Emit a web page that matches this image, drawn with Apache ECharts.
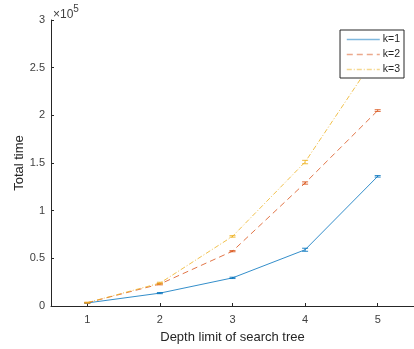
<!DOCTYPE html>
<html>
<head>
<meta charset="utf-8">
<script src="https://cdn.jsdelivr.net/npm/echarts@6/dist/echarts.min.js"></script>
<style>
  html, body { margin: 0; padding: 0; background: #fff; }
  #chart { width: 414px; height: 349px; }
</style>
</head>
<body>
<div id="chart"></div>
<script>
const depths = [1, 2, 3, 4, 5];
const k1 = [3200, 13500, 29500, 59000, 136000];
const k2 = [3400, 23000, 57500, 129000, 205000];
const k3 = [3500, 24000, 73000, 151000, 265000];
const k1Err = [400, 600, 700, 1600, 800];
const k2Err = [400, 800, 600, 1200, 900];
const k3Err = [400, 900, 800, 1800, 1000];
const yTicks = [0, 50000, 100000, 150000, 200000, 250000, 300000];

const colors = ['#0072BD', '#D95319', '#EDB120'];
const font = 'Liberation Sans, Arial, sans-serif';

const chart = echarts.init(document.getElementById('chart'));

function pairs(ys) {
  return depths.map(function (d, i) { return [d, ys[i]]; });
}

function errData(ys, es) {
  return depths.map(function (d, i) { return [d, ys[i] - es[i], ys[i] + es[i]]; });
}

function errSeries(ys, es, color) {
  return {
    type: 'custom',
    data: errData(ys, es),
    z: 3,
    silent: true,
    renderItem: function (params, api) {
      const lo = api.coord([api.value(0), api.value(1)]);
      const hi = api.coord([api.value(0), api.value(2)]);
      const w = 3;
      const style = { stroke: color, lineWidth: 1, opacity: 0.85 };
      return {
        type: 'group',
        children: [
          { type: 'line', shape: { x1: lo[0], y1: lo[1], x2: hi[0], y2: hi[1] }, style: style },
          { type: 'line', shape: { x1: lo[0] - w, y1: lo[1], x2: lo[0] + w, y2: lo[1] }, style: style },
          { type: 'line', shape: { x1: hi[0] - w, y1: hi[1], x2: hi[0] + w, y2: hi[1] }, style: style }
        ]
      };
    }
  };
}

function lineSeries(name, ys, color, dash) {
  return {
    name: name,
    type: 'line',
    data: pairs(ys),
    symbol: 'none',
    z: 2,
    lineStyle: { color: color, width: 1, type: dash, opacity: 0.8 },
    itemStyle: { color: color }
  };
}

chart.setOption({
  animation: false,
  textStyle: { fontFamily: font },
  grid: { left: 51, top: 20, width: 366, height: 286, containLabel: false },
  legend: {
    orient: 'vertical',
    right: 10,
    top: 30,
    backgroundColor: '#fff',
    borderColor: '#262626',
    borderWidth: 1,
    borderRadius: 0,
    padding: [4, 4, 3, 6],
    itemWidth: 33,
    itemHeight: 10,
    itemGap: 4,
    z: 10,
    itemStyle: { color: 'transparent', borderWidth: 0, opacity: 0 },
    lineStyle: { width: 1.5, color: 'inherit', type: 'inherit', opacity: 0.5 },
    textStyle: { fontSize: 10.5, color: '#262626', fontFamily: font, padding: [0, 0, 0, -2] },
    data: ['k=1', 'k=2', 'k=3']
  },
  xAxis: {
    type: 'value',
    min: 0.5,
    max: 5.5,
    name: 'Depth limit of search tree',
    nameLocation: 'middle',
    nameGap: 25,
    nameMoveOverlap: false,
    nameTextStyle: { fontSize: 13, color: '#262626', fontFamily: font },
    axisLine: { lineStyle: { color: '#262626', width: 1 } },
    axisTick: { inside: true, length: 3, customValues: depths, lineStyle: { color: '#262626' } },
    axisLabel: { customValues: depths, fontSize: 11, color: '#404040', margin: 8, fontFamily: font },
    splitLine: { show: false }
  },
  yAxis: {
    type: 'value',
    min: 0,
    max: 300000,
    interval: 50000,
    name: 'Total time',
    nameLocation: 'middle',
    nameGap: 25,
    nameMoveOverlap: false,
    nameTextStyle: { fontSize: 13, color: '#262626', fontFamily: font },
    axisLine: { show: true, lineStyle: { color: '#262626', width: 1 } },
    axisTick: { show: true, inside: true, length: 3, customValues: yTicks, lineStyle: { color: '#262626' } },
    axisLabel: {
      fontSize: 11, color: '#404040', margin: 6, fontFamily: font,
      formatter: function (v) { return String(v / 100000); }
    },
    splitLine: { show: false }
  },
  graphic: [{
    type: 'text',
    left: 53,
    top: 4,
    style: {
      text: '{a|×10}{b|5}',
      rich: {
        a: { fontSize: 12, fill: '#404040', fontFamily: font, padding: [6, 0, 0, 0] },
        b: { fontSize: 10, fill: '#404040', fontFamily: font, padding: [0, 0, 5, 0] }
      }
    }
  }],
  series: [
    lineSeries('k=1', k1, colors[0], 'solid'),
    lineSeries('k=2', k2, colors[1], [6, 4]),
    lineSeries('k=3', k3, colors[2], [5, 2, 1, 2]),
    errSeries(k1, k1Err, colors[0]),
    errSeries(k2, k2Err, colors[1]),
    errSeries(k3, k3Err, colors[2])
  ]
});
</script>
</body>
</html>
